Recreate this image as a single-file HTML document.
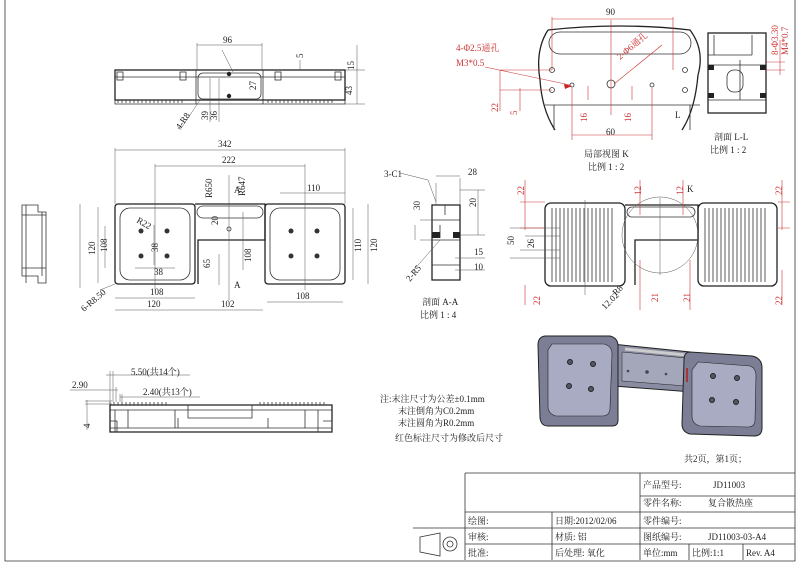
<!DOCTYPE html>
<html><head><meta charset="utf-8"><style>
body{margin:0;background:#fff}
svg{display:block;font-family:"Liberation Serif","Noto Serif CJK SC",serif}
.l{stroke:#333;stroke-width:.8;fill:none}
.t{stroke:#222;stroke-width:1.3;fill:none}
.d{stroke:#555;stroke-width:.5;fill:none}
.r{stroke:#c33;stroke-width:.6;fill:none}
text{fill:#222;font-size:9px}
.rt{fill:#c33}
</style></head><body>
<svg width="800" height="565" viewBox="0 0 800 565">
<path class="l" d="M5 0V561H795V0"/>
<!-- TOP VIEW -->
<g>
<rect class="t" x="115" y="70" width="230" height="30"/>
<path class="l" d="M115 77H345M115 100V104H345V100M196 70V104M263 70V104"/>
<rect class="l" x="198" y="73" width="63" height="26" rx="5"/>
<path class="l" d="M118 100v3m4-3v3m4-3v3m4-3v3m4-3v3m4-3v3m4-3v3m4-3v3m4-3v3m4-3v3m4-3v3m4-3v3m4-3v3m4-3v3m4-3v3m4-3v3m4-3v3M268 100v3m4-3v3m4-3v3m4-3v3m4-3v3m4-3v3m4-3v3m4-3v3m4-3v3m4-3v3m4-3v3m4-3v3m4-3v3m4-3v3m4-3v3m4-3v3m4-3v3"/>
<rect class="l" x="117" y="72" width="6" height="8"/><rect class="l" x="180" y="72" width="6" height="8"/><rect class="l" x="275" y="72" width="6" height="8"/><rect class="l" x="335" y="72" width="6" height="8"/>
<circle cx="229" cy="74" r="2.2" fill="#222"/><circle cx="229" cy="96" r="2.2" fill="#222"/>
<path class="d" d="M197 45H262M197 43V70M262 43V70M300 60V70M345 70H365M345 104H365M357 45V104M180 130L200 100M210 78V122M219 78V122M222 50L233 72"/>
<text x="223" y="43">96</text><text x="303" y="58" transform="rotate(-90 303 58)">5</text><text x="354" y="70" transform="rotate(-90 354 70)">15</text><text x="352" y="95" transform="rotate(-90 352 95)">43</text><text x="208" y="120" transform="rotate(-90 208 120)">39</text><text x="217" y="120" transform="rotate(-90 217 120)">36</text><text x="256" y="90" transform="rotate(-90 256 90)">27</text><text x="180" y="130" transform="rotate(-55 180 130)">4-R8</text>
</g>
<!-- LEFT SIDE VIEW -->
<path class="l" d="M22 205H38V212H46V283H38V276H22ZM26 205V283M22 215H46M22 268H46M42 212V276"/>
<!-- PLAN VIEW -->
<g>
<rect class="t" x="115" y="204" width="80" height="80" rx="3"/>
<rect class="l" x="120" y="208" width="70" height="72" rx="10"/>
<rect class="t" x="265" y="204" width="80" height="80" rx="3"/>
<rect class="l" x="270" y="208" width="70" height="72" rx="10"/>
<path class="t" d="M195 204H265V240H198V284"/>
<rect class="l" x="197" y="206" width="66" height="12" rx="6"/>
<g fill="#333"><circle cx="141" cy="231" r="2.5"/><circle cx="167" cy="231" r="2.5"/><circle cx="141" cy="256" r="2.5"/><circle cx="167" cy="256" r="2.5"/><circle cx="291" cy="231" r="2.5"/><circle cx="317" cy="231" r="2.5"/><circle cx="291" cy="256" r="2.5"/><circle cx="317" cy="256" r="2.5"/></g>
<circle class="l" cx="229" cy="229" r="2"/>
<path class="d" d="M115 150H345M115 148V204M345 148V204M155 166H305M155 164V290M305 164V290M115 310H195M195 310H263M115 298H195M267 302H343M98 207V283M80 204V288M353 208V280M368 204V284M105 226V268M280 193H345M154 225V265M135 268H175M219 254V285M243 212V270M229 175V300M100 290L115 284"/>
<text x="218" y="147">342</text><text x="222" y="163">222</text><text x="147" y="307">120</text><text x="221" y="307">102</text><text x="150" y="295">108</text><text x="296" y="299">108</text><text x="307" y="191">110</text><text x="95" y="255" transform="rotate(-90 95 255)">120</text><text x="107" y="252" transform="rotate(-90 107 252)">108</text><text x="361" y="252" transform="rotate(-90 361 252)">110</text><text x="377" y="252" transform="rotate(-90 377 252)">120</text><text x="158" y="252" transform="rotate(-90 158 252)">38</text><text x="154" y="275">38</text><text x="210" y="268" transform="rotate(-90 210 268)">65</text><text x="251" y="262" transform="rotate(-90 251 262)">108</text><text x="212" y="198" transform="rotate(-90 212 198)">R650</text><text x="245" y="196" transform="rotate(-90 245 196)">R647</text><text x="234" y="193">A</text><text x="234" y="288">A</text><text x="136" y="222" transform="rotate(30 136 222)">R22</text><text x="84" y="312" transform="rotate(-40 84 312)">6-R8.50</text><text x="218" y="225" transform="rotate(-90 218 225)">20</text>
</g>
<!-- SECTION A-A -->
<g>
<path class="t" d="M432 205H460V280H432Z"/>
<path class="l" d="M432 220H460M432 240H460M432 265H460M445 205V215M440 225V238"/>
<rect x="432" y="232" width="8" height="6" fill="#222"/><rect x="453" y="232" width="7" height="6" fill="#222"/>
<path class="d" d="M436 183V205M460 178V205M436 176H460M460 190H485M460 235H485M478 190V235M420 220H440M420 240H440M415 225V240M455 258H485M455 270H485M412 272L440 240M400 173L428 180L436 202"/>
<text x="468" y="175">28</text><text x="384" y="177" font-size="10">3-C1</text><text x="420" y="210" transform="rotate(-90 420 210)">30</text><text x="476" y="207" transform="rotate(-90 476 207)">20</text><text x="474" y="255">15</text><text x="474" y="270">10</text><text x="410" y="282" transform="rotate(-50 410 282)">2-R5</text>
<text x="422" y="305" font-size="10">剖面 A-A</text><text x="420" y="318" font-size="10">比例 1 : 4</text>
</g>
<!-- DETAIL K -->
<g>
<path class="t" d="M548 30Q620 22 690 30Q705 50 698 75Q695 110 682 130M548 30Q535 50 540 80Q542 110 555 130"/>
<rect class="l" x="549" y="32" width="142" height="22" rx="11"/>
<path class="l" d="M545 105H700M554 105V130M690 105V130"/>
<g class="l"><circle cx="552" cy="70" r="2.5"/><circle cx="552" cy="90" r="2.5"/><circle cx="685" cy="70" r="2.5"/><circle cx="685" cy="90" r="2.5"/><circle cx="572" cy="85" r="2"/><circle cx="652" cy="85" r="2"/><circle cx="611" cy="84" r="4"/></g>
<path class="r" d="M552 19H673M552 17V70M673 17V70M500 70H552M500 90H552M500 70V111M520 88V111M572 88V140M652 88V140M572 135H652M588 86V100M632 86V100M611 20V115M614 84L662 45M485 67L570 85"/>
<text x="606" y="15">90</text><text x="606" y="135">60</text><text class="rt" x="498" y="112" transform="rotate(-90 498 112)">22</text><text class="rt" x="517" y="115" transform="rotate(-90 517 115)">5</text><text class="rt" x="587" y="122" transform="rotate(-90 587 122)">16</text><text class="rt" x="631" y="122" transform="rotate(-90 631 122)">16</text><text class="rt" x="620" y="60" transform="rotate(-40 620 60)">2-Φ6通孔</text>
<text class="rt" x="456" y="51" font-size="10">4-Φ2.5通孔</text><text class="rt" x="456" y="66" font-size="10">M3*0.5</text>
<path d="M564 84l8 2-7 3z" fill="#c22"/>
<text x="584" y="157" font-size="10">局部视图 K</text><text x="588" y="170" font-size="10">比例 1 : 2</text><text x="675" y="118">L</text>
<rect class="t" x="708" y="33" width="58" height="80"/>
<path class="l" d="M708 55H752M708 65H766M708 100H766M714 35V55M752 35V55M740 60V100"/>
<rect class="l" x="727" y="70" width="16" height="22" rx="7"/>
<rect x="708" y="65" width="6" height="5" fill="#222"/><rect x="760" y="65" width="6" height="5" fill="#222"/><rect x="708" y="93" width="6" height="5" fill="#222"/><rect x="760" y="93" width="6" height="5" fill="#222"/>
<path class="r" d="M766 62H785M766 70H785M780 40V75"/><text class="rt" x="778" y="55" transform="rotate(-90 778 55)">8-Φ3.30</text><text class="rt" x="788" y="55" transform="rotate(-90 788 55)">M4*0.7</text>
<text x="714" y="140" font-size="10">剖面 L-L</text><text x="710" y="153" font-size="10">比例 1 : 2</text>
</g>
<!-- BOTTOM-RIGHT PLAN -->
<g>
<rect class="t" x="545" y="203" width="80" height="83" rx="6"/>
<rect class="t" x="698" y="203" width="79" height="83" rx="6"/>
<path class="t" d="M625 205H698V240H635V285"/>
<rect class="l" x="627" y="207" width="68" height="10" rx="5"/>
<path class="l" d="M552 208v74m4-74v74m4-74v74m4-74v74m4-74v74m4-74v74m4-74v74m4-74v74m4-74v74m4-74v74m4-74v74m4-74v74m4-74v74m4-74v74m4-74v74m4-74v74M705 208v74m4-74v74m4-74v74m4-74v74m4-74v74m4-74v74m4-74v74m4-74v74m4-74v74m4-74v74m4-74v74m4-74v74m4-74v74m4-74v74m4-74v74m4-74v74"/>
<circle class="d" cx="660" cy="235" r="38"/>
<path class="d" d="M660 198V275M585 200V295M510 228H560M525 236H560M510 258H560M520 250H560"/>
<path class="r" d="M525 180V230M525 285V305M640 180V215M683 180V215M640 260V310M690 260V310M782 180V230M782 270V305M520 202H545M520 228H545M778 202H790M778 228H790"/>
<text class="rt" x="524" y="195" transform="rotate(-90 524 195)">22</text><text class="rt" x="641" y="195" transform="rotate(-90 641 195)">12</text><text class="rt" x="683" y="195" transform="rotate(-90 683 195)">12</text><text class="rt" x="782" y="195" transform="rotate(-90 782 195)">22</text><text class="rt" x="540" y="305" transform="rotate(-90 540 305)">22</text><text class="rt" x="658" y="302" transform="rotate(-90 658 302)">21</text><text class="rt" x="690" y="302" transform="rotate(-90 690 302)">21</text><text class="rt" x="782" y="305" transform="rotate(-90 782 305)">22</text>
<text x="514" y="245" transform="rotate(-90 514 245)">50</text><text x="534" y="248" transform="rotate(-90 534 248)">26</text><text x="605" y="310" transform="rotate(-45 605 310)">12.02</text><text x="616" y="296" transform="rotate(-45 616 296)">R8</text><text x="687" y="192">K</text>
</g>
<!-- 3D VIEW -->
<g stroke="#222" stroke-width="1">
<path d="M612 344L690 352L692 392L614 386Z" fill="#8a8ca2"/>
<path d="M622 352L686 358L686 386L622 381Z" fill="#a4a6ba" stroke-width=".5"/>
<path d="M625 349L686 355" stroke="#ccc" stroke-width="3"/>
<path d="M545 336L610 336Q618 338 618 346L618 420Q618 426 612 426L548 426Q541 426 540 418L538 345Q538 337 545 336Z" fill="#7c7e95"/>
<path d="M552 344L604 344Q612 346 612 354L610 408Q610 416 602 416L556 416Q548 414 548 406L548 350Z" fill="#a9abc2" stroke-width=".6"/>
<path d="M690 352L752 356Q762 358 762 368L762 428Q762 436 754 436L690 434Q682 432 682 424L684 360Q684 352 690 352Z" fill="#7c7e95"/>
<path d="M698 362L750 366Q756 368 756 376L755 420Q755 427 748 427L700 426Q692 424 692 416L692 370Z" fill="#a9abc2" stroke-width=".6"/>
<g fill="#556"><circle cx="570" cy="362" r="2.5"/><circle cx="593" cy="364" r="2.5"/><circle cx="569" cy="386" r="2.5"/><circle cx="591" cy="389" r="2.5"/><circle cx="713" cy="376" r="2.5"/><circle cx="737" cy="378" r="2.5"/><circle cx="712" cy="400" r="2.5"/><circle cx="736" cy="402" r="2.5"/></g>
<g fill="#445" stroke="none"><circle cx="628" cy="371" r="1.3"/><circle cx="647" cy="372" r="1.8"/><circle cx="666" cy="374" r="1.3"/></g>
<path d="M687 368V382" stroke="#a33" stroke-width="2"/>
</g>
<!-- FIN SIDE VIEW -->
<g>
<path class="t" d="M110 405H332V432H110Z"/>
<path class="l" d="M110 410H332M110 428H332M115 410V432M128 410V428M175 410V428M188 405V418H252V405M178 418V428H268V418M305 410V428M318 410V432M110 421H117V432M323 421H332V432M110 405V402m4 3v-3m4 3v-3m4 3v-3m4 3v-3m4 3v-3m4 3v-3m4 3v-3m4 3v-3m4 3v-3m4 3v-3m4 3v-3m4 3v-3m4 3v-3m4 3v-3M260 405v-3m4 3v-3m4 3v-3m4 3v-3m4 3v-3m4 3v-3m4 3v-3m4 3v-3m4 3v-3m4 3v-3m4 3v-3m4 3v-3m4 3v-3m4 3v-3m4 3v-3m4 3v-3m4 3v-3"/>
<path class="d" d="M106 375H190M110 371V402M113 371V402M70 390H118M116 387V402M120 397H200M120 394V402M122 394V402M85 401H112M85 404H112M87 400V430"/>
<text x="131" y="375">5.50(共14个)</text><text x="72" y="388">2.90</text><text x="143" y="395">2.40(共13个)</text><text x="90" y="428" transform="rotate(-90 90 428)">4</text>
</g>
<!-- NOTES -->
<text x="380" y="402" font-size="9.5">注:末注尺寸为公差±0.1mm</text>
<text x="398" y="414" font-size="9.5">末注倒角为C0.2mm</text>
<text x="398" y="426" font-size="9.5">末注圆角为R0.2mm</text>
<text x="395" y="441" font-size="10">红色标注尺寸为修改后尺寸</text>
<!-- TITLE BLOCK -->
<text x="684" y="462" font-size="15">共2页，第1页；</text>
<g class="l">
<path d="M465 473H795M465 473V560M465 512H795M640 496H795M465 528H795M465 544H795M413 528H465V560M552 512V560M640 473V560M689 544V560M743 544V560"/>
</g>
<path class="l" d="M420 537L440 533V556L420 552ZM440 533V556"/><circle class="l" cx="450" cy="544" r="7"/><circle class="l" cx="450" cy="544" r="3"/>
<g font-size="10">
<text x="643" y="488">产品型号:</text><text x="713" y="488">JD11003</text>
<text x="643" y="506">零件名称:</text><text x="708" y="506">复合散热座</text>
<text x="468" y="524">绘图:</text><text x="555" y="524">日期:2012/02/06</text><text x="643" y="524">零件编号:</text>
<text x="468" y="540">审核:</text><text x="555" y="540">材质:    铝</text><text x="643" y="540" font-size="9">图纸编号:</text><text x="708" y="540">JD11003-03-A4</text>
<text x="468" y="556">批准:</text><text x="555" y="556">后处理:  氧化</text><text x="643" y="556" font-size="9">单位:mm</text><text x="692" y="556" font-size="9">比例:1:1</text><text x="746" y="556" font-size="9">Rev. A4</text>
</g>
</svg>
</body></html>
